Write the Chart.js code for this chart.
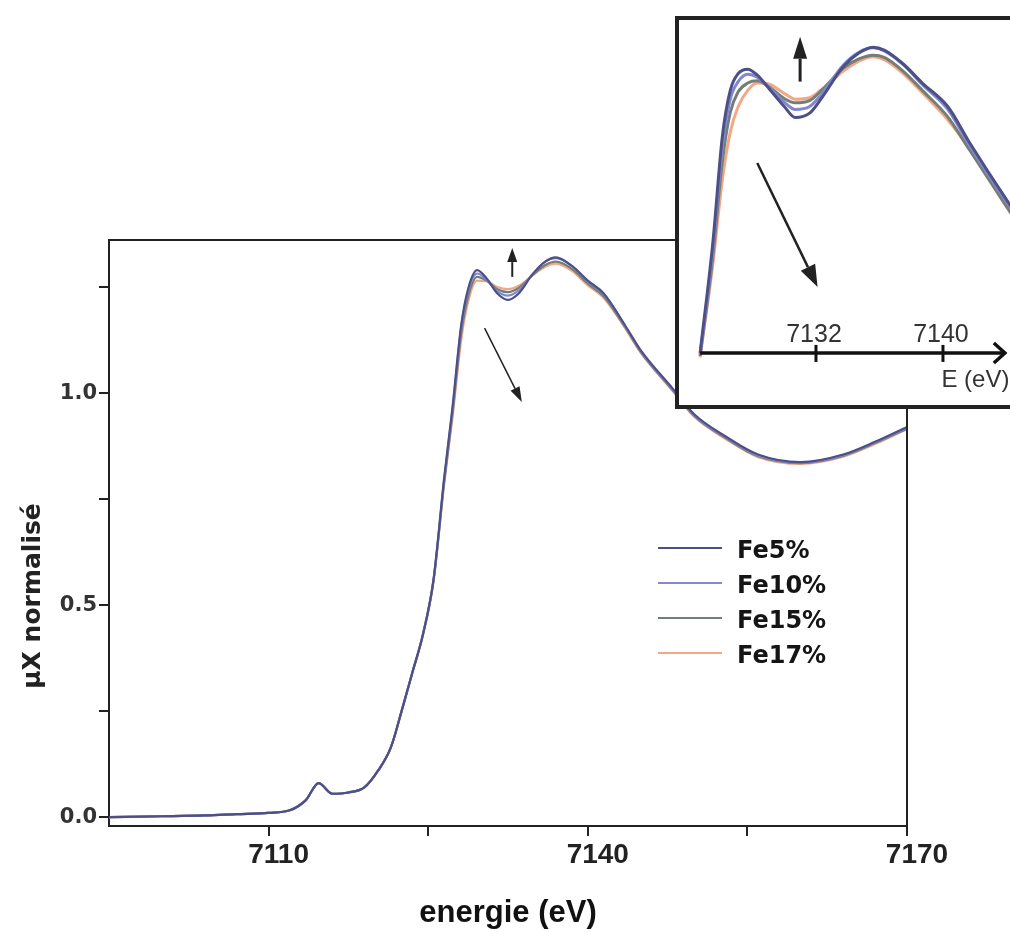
<!DOCTYPE html>
<html>
<head>
<meta charset="utf-8">
<script src="https://cdn.jsdelivr.net/npm/chart.js@4.4.1/dist/chart.umd.min.js"></script>
<style>
  html, body { margin: 0; padding: 0; background: #fff; overflow: hidden; width: 1010px; height: 932px; }
  #main { position: absolute; left: 0; top: 0; }
  #insetBox { position: absolute; left: 675px; top: 16px; width: 380px; height: 385px; border: 4px solid #222; background: #fff; }
  #inset { position: absolute; left: 0; top: 0; }
</style>
</head>
<body>
<canvas id="main" width="1010" height="932"></canvas>
<div id="insetBox"><canvas id="inset" width="380" height="385"></canvas></div>
<script>
// series
const seriesNames = ['Fe5%', 'Fe10%', 'Fe15%', 'Fe17%'];
const lineColors = ['#4c5086', '#8288cf', '#747e78', '#f2a884'];

// main plot, energy in eV
const energy = [7095, 7100, 7104, 7107, 7110, 7112, 7113.5, 7114.7, 7116, 7117.5, 7119, 7120.3,
  7121.5, 7122.5, 7123.5, 7124.5, 7125.5, 7126.5, 7127.3, 7128.1, 7128.8, 7129.6, 7130.5, 7131.5,
  7132.5, 7133.5, 7134.8, 7136, 7137, 7138.5, 7140, 7141.5, 7143.5, 7145, 7148, 7150, 7153, 7156,
  7160, 7164, 7167, 7170];
const fe5 = [0.0, 0.002, 0.004, 0.007, 0.010, 0.016, 0.04, 0.08, 0.055, 0.058, 0.07, 0.11,
  0.165, 0.25, 0.34, 0.43, 0.56, 0.80, 0.97, 1.16, 1.25, 1.29, 1.27, 1.235,
  1.22, 1.235, 1.28, 1.31, 1.32, 1.30, 1.265, 1.235, 1.16, 1.10, 1.01, 0.95, 0.897, 0.855,
  0.837, 0.855, 0.885, 0.92];
const fe10 = [0.0, 0.002, 0.004, 0.007, 0.010, 0.016, 0.04, 0.08, 0.055, 0.058, 0.07, 0.11,
  0.165, 0.25, 0.34, 0.43, 0.56, 0.795, 0.965, 1.155, 1.245, 1.282, 1.267, 1.24,
  1.23, 1.242, 1.28, 1.31, 1.318, 1.30, 1.263, 1.233, 1.158, 1.098, 1.008, 0.948, 0.895, 0.853,
  0.836, 0.853, 0.884, 0.918];
const fe15 = [0.0, 0.002, 0.004, 0.007, 0.010, 0.016, 0.04, 0.08, 0.055, 0.058, 0.07, 0.11,
  0.165, 0.25, 0.34, 0.43, 0.558, 0.79, 0.955, 1.14, 1.232, 1.274, 1.265, 1.245,
  1.238, 1.248, 1.278, 1.302, 1.31, 1.293, 1.258, 1.228, 1.156, 1.096, 1.006, 0.946, 0.893, 0.851,
  0.835, 0.852, 0.882, 0.916];
const fe17 = [0.0, 0.002, 0.004, 0.007, 0.010, 0.016, 0.04, 0.08, 0.055, 0.058, 0.07, 0.11,
  0.165, 0.25, 0.34, 0.43, 0.555, 0.785, 0.945, 1.125, 1.22, 1.265, 1.264, 1.25,
  1.245, 1.253, 1.277, 1.298, 1.305, 1.288, 1.254, 1.224, 1.153, 1.094, 1.004, 0.944, 0.891, 0.849,
  0.833, 0.85, 0.88, 0.915];
const mainValues = [fe5, fe10, fe15, fe17];

const xTicks = [7110, 7125, 7140, 7155, 7170];
const xLabels = [7110, 7140, 7170];
const yTicks = [0, 0.25, 0.5, 0.75, 1.0, 1.25];
const yLabels = [0, 0.5, 1.0];

// inset (zoom on the white line)
const insetEnergy = [7124.7, 7125.5, 7126.1, 7126.6, 7127.1, 7127.7, 7128.3, 7129.1, 7130.0, 7130.7,
  7131.6, 7132.4, 7133.7, 7134.7, 7135.6, 7136.3, 7137.5, 7138.7, 7140.3, 7141.7, 7144.0, 7146.0];
const insetFe5 = [0.904, 1.054, 1.199, 1.262, 1.285, 1.291, 1.283, 1.263, 1.240, 1.225,
  1.231, 1.253, 1.294, 1.313, 1.321, 1.317, 1.298, 1.272, 1.240, 1.190, 1.113, 1.05];
const insetFe10 = [0.902, 1.045, 1.185, 1.25, 1.274, 1.284, 1.280, 1.265, 1.246, 1.236,
  1.240, 1.258, 1.296, 1.314, 1.320, 1.316, 1.297, 1.270, 1.236, 1.186, 1.110, 1.047];
const insetFe15 = [0.9, 1.035, 1.165, 1.232, 1.26, 1.272, 1.275, 1.266, 1.251, 1.245,
  1.248, 1.263, 1.292, 1.305, 1.310, 1.307, 1.288, 1.262, 1.226, 1.180, 1.104, 1.04];
const insetFe17 = [0.898, 1.025, 1.14, 1.205, 1.24, 1.262, 1.272, 1.27, 1.258, 1.25,
  1.252, 1.264, 1.288, 1.302, 1.308, 1.304, 1.285, 1.259, 1.222, 1.181, 1.103, 1.04];
const insetValues = [insetFe5, insetFe10, insetFe15, insetFe17];
const insetTicks = [7132, 7140];

// arrows, in data units
const mainArrows = [
  { from: [7132.9, 1.274], to: [7132.9, 1.342], width: 2, head: 14, headW: 5 },
  { from: [7130.3, 1.153], to: [7133.8, 0.979], width: 1.5, head: 15, headW: 5 }
];
const insetArrows = [
  { from: [7131.0, 1.274], to: [7131.0, 1.335], width: 3, head: 22, headW: 7 },
  { from: [7128.3, 1.163], to: [7132.1, 0.994], width: 2.5, head: 22, headW: 8 }
];

function drawArrow(ctx, x1, y1, x2, y2, w, head, headW) {
  const a = Math.atan2(y2 - y1, x2 - x1);
  const bx = x2 - Math.cos(a) * head, by = y2 - Math.sin(a) * head;
  ctx.save();
  ctx.strokeStyle = '#222';
  ctx.fillStyle = '#222';
  ctx.lineWidth = w;
  ctx.beginPath();
  ctx.moveTo(x1, y1);
  ctx.lineTo(bx, by);
  ctx.stroke();
  ctx.beginPath();
  ctx.moveTo(x2, y2);
  ctx.lineTo(bx + Math.sin(a) * headW, by - Math.cos(a) * headW);
  ctx.lineTo(bx - Math.sin(a) * headW, by + Math.cos(a) * headW);
  ctx.closePath();
  ctx.fill();
  ctx.restore();
}

function arrowsPlugin(list) {
  return {
    id: 'arrows',
    afterDatasetsDraw(chart) {
      const { ctx, scales: { x, y } } = chart;
      list.forEach(ar => {
        drawArrow(ctx, x.getPixelForValue(ar.from[0]), y.getPixelForValue(ar.from[1]),
          x.getPixelForValue(ar.to[0]), y.getPixelForValue(ar.to[1]), ar.width, ar.head, ar.headW);
      });
    }
  };
}

const framePlugin = {
  id: 'frame',
  afterDraw(chart) {
    const { ctx, chartArea: a } = chart;
    ctx.save();
    ctx.strokeStyle = '#222';
    ctx.lineWidth = 2;
    ctx.beginPath();
    ctx.moveTo(a.left, a.top);
    ctx.lineTo(a.right, a.top);
    ctx.lineTo(a.right, a.bottom);
    ctx.stroke();
    // y title
    ctx.translate(33, 596);
    ctx.rotate(-Math.PI / 2);
    ctx.fillStyle = '#222';
    ctx.font = 'bold 25px "DejaVu Sans"';
    ctx.textAlign = 'center';
    ctx.textBaseline = 'middle';
    ctx.fillText('µX normalisé', 0, 0);
    ctx.restore();
  }
};

const legendPlugin = {
  id: 'legendBox',
  afterDraw(chart) {
    const ctx = chart.ctx;
    ctx.save();
    ctx.font = 'bold 24px "DejaVu Sans"';
    ctx.textBaseline = 'alphabetic';
    chart.data.datasets.forEach((ds, i) => {
      const base = 558 + 35 * i;
      ctx.strokeStyle = ds.borderColor;
      ctx.lineWidth = 2;
      ctx.beginPath();
      ctx.moveTo(658, base - 10);
      ctx.lineTo(722, base - 10);
      ctx.stroke();
      ctx.fillStyle = '#151515';
      ctx.fillText(ds.label, 737, base);
    });
    ctx.restore();
  }
};

const mainChart = new Chart(document.getElementById('main'), {
  type: 'line',
  data: {
    datasets: seriesNames.map((name, i) => ({
      label: name,
      data: energy.map((e, j) => ({ x: e, y: mainValues[i][j] })),
      borderColor: lineColors[i],
      borderWidth: 2.2,
      pointRadius: 0,
      fill: false,
      cubicInterpolationMode: 'monotone'
    }))
  },
  options: {
    responsive: false,
    animation: false,
    layout: { padding: { top: 240, right: 103, left: 0, bottom: 0 } },
    plugins: { legend: { display: false }, tooltip: { enabled: false } },
    scales: {
      x: {
        type: 'linear', min: 7095, max: 7170,
        afterBuildTicks: s => { s.ticks = xTicks.map(v => ({ value: v })); },
        afterFit: s => { s.height = 106; },
        ticks: {
          callback: v => xLabels.includes(v) ? String(v) : '',
          font: { family: 'Liberation Sans', weight: 'bold', size: 28 },
          color: '#222', padding: 2, labelOffset: 10, maxRotation: 0, autoSkip: false
        },
        grid: { drawOnChartArea: false, tickLength: 10, color: '#222', lineWidth: 2 },
        border: { color: '#222', width: 2 },
        title: {
          display: true, text: 'energie (eV)', color: '#111',
          font: { family: 'Liberation Sans', weight: 'bold', size: 31 },
          padding: { top: 0, bottom: 0 }
        }
      },
      y: {
        min: -0.021, max: 1.361,
        afterBuildTicks: s => { s.ticks = yTicks.map(v => ({ value: v })); },
        afterFit: s => { s.width = 109; },
        ticks: {
          callback: v => yLabels.some(l => Math.abs(l - v) < 1e-6) ? v.toFixed(1) : '',
          font: { family: 'DejaVu Sans', weight: 'bold', size: 21 },
          color: '#333', padding: 2
        },
        grid: { drawOnChartArea: false, tickLength: 10, color: '#222', lineWidth: 2 },
        border: { color: '#222', width: 2 }
      }
    }
  },
  plugins: [framePlugin, arrowsPlugin(mainArrows), legendPlugin]
});

const insetAxisPlugin = {
  id: 'insetAxis',
  afterDatasetsDraw(chart) {
    const { ctx, scales: { x, y } } = chart;
    const ay = y.getPixelForValue(0.904);
    const x0 = x.getPixelForValue(7124.7);
    const x1 = x.getPixelForValue(7143.9);
    ctx.save();
    ctx.strokeStyle = '#111';
    ctx.lineWidth = 3.5;
    ctx.beginPath();
    ctx.moveTo(x0, ay);
    ctx.lineTo(x1, ay);
    ctx.stroke();
    ctx.beginPath();
    ctx.moveTo(x1 - 11, ay - 10);
    ctx.lineTo(x1, ay);
    ctx.lineTo(x1 - 11, ay + 10);
    ctx.stroke();
    ctx.font = '25px "Liberation Sans"';
    ctx.fillStyle = '#333';
    ctx.textAlign = 'center';
    insetTicks.forEach(t => {
      const px = x.getPixelForValue(t);
      ctx.lineWidth = 3;
      ctx.beginPath();
      ctx.moveTo(px, ay - 8);
      ctx.lineTo(px, ay + 9);
      ctx.stroke();
      ctx.fillText(String(t), px - 2, ay - 11);
    });
    ctx.textAlign = 'left';
    ctx.font = '24px "Liberation Sans"';
    ctx.fillText('E (eV)', x.getPixelForValue(7139.9), ay + 34);
    ctx.restore();
  }
};

const insetChart = new Chart(document.getElementById('inset'), {
  type: 'line',
  data: {
    datasets: seriesNames.map((name, i) => ({
      label: name,
      data: insetEnergy.map((e, j) => ({ x: e, y: insetValues[i][j] })),
      borderColor: lineColors[i],
      borderWidth: 3,
      pointRadius: 0,
      fill: false,
      cubicInterpolationMode: 'monotone'
    }))
  },
  options: {
    responsive: false,
    animation: false,
    layout: { padding: 0 },
    plugins: { legend: { display: false }, tooltip: { enabled: false } },
    scales: {
      x: { type: 'linear', min: 7123.37, max: 7147.31, display: false },
      y: { min: 0.833, max: 1.358, display: false }
    }
  },
  plugins: [insetAxisPlugin, arrowsPlugin(insetArrows)]
});
</script>
</body>
</html>
